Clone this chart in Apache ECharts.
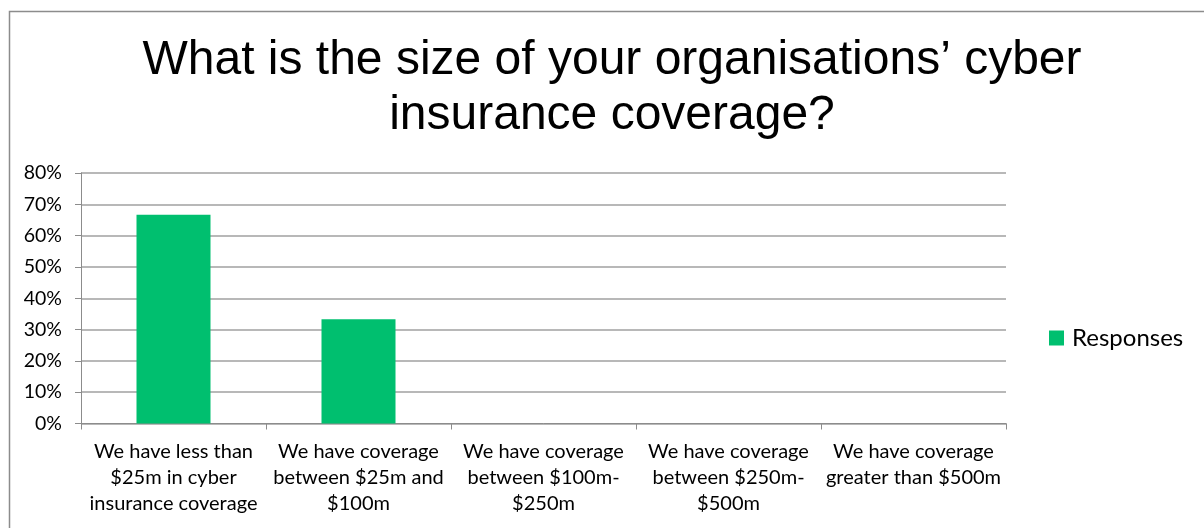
<!DOCTYPE html>
<html>
<head>
<meta charset="utf-8">
<script src="https://cdn.jsdelivr.net/npm/echarts@6/dist/echarts.min.js"></script>
<style>
  html, body { margin: 0; padding: 0; background: #fff; }
  #chart { width: 1204px; height: 528px; }
</style>
</head>
<body>
<div id="chart"></div>
<script>
// Survey answers, shown as share of responses
const categories = [
  'We have less than\n$25m in cyber\ninsurance coverage',
  'We have coverage\nbetween $25m and\n$100m',
  'We have coverage\nbetween $100m-\n$250m',
  'We have coverage\nbetween $250m-\n$500m',
  'We have coverage\ngreater than $500m'
];
const responses = [66.7, 33.3, 0, 0, 0];
const seriesName = 'Responses';
const titleText = 'What is the size of your organisations’ cyber\ninsurance coverage?';

const chart = echarts.init(document.getElementById('chart'));
const labelFont = 'Lato, "Open Sans", sans-serif';

chart.setOption({
  animation: false,
  backgroundColor: '#fff',
  graphic: [{
    type: 'rect',
    left: 7, top: 9,
    shape: { width: 1210, height: 540 },
    style: { fill: 'none', stroke: '#8c8c8c', lineWidth: 1.5 },
    silent: true
  }],
  title: {
    text: titleText,
    left: 607,
    textAlign: 'center',
    top: 28,
    textStyle: {
      fontFamily: '"Liberation Sans", Arial, sans-serif',
      fontWeight: 'normal',
      fontSize: 48,
      lineHeight: 55,
      color: '#000'
    }
  },
  legend: {
    data: [seriesName],
    left: 1044,
    top: 321,
    icon: 'rect',
    itemWidth: 15,
    itemHeight: 15,
    itemGap: 8,
    textStyle: { fontFamily: labelFont, fontSize: 24, color: '#000', padding: [0, 0, 0, 3] }
  },
  grid: { left: 81, right: 198, top: 173, bottom: 104.5, containLabel: false },
  xAxis: {
    type: 'category',
    data: categories,
    axisLine: { lineStyle: { color: '#8c8c8c', width: 1 } },
    axisTick: { show: true, length: 6, alignWithLabel: false, lineStyle: { color: '#8c8c8c' } },
    axisLabel: {
      interval: 0,
      margin: 15,
      fontFamily: labelFont,
      fontSize: 20,
      lineHeight: 26,
      color: '#000',
      align: 'center'
    }
  },
  yAxis: {
    type: 'value',
    min: 0,
    max: 80,
    interval: 10,
    axisLine: { show: true, lineStyle: { color: '#8c8c8c', width: 1 } },
    axisTick: { show: true, length: 6, lineStyle: { color: '#8c8c8c' } },
    splitLine: { lineStyle: { color: '#a0a0a0', width: 1.5 } },
    axisLabel: {
      margin: 19,
      formatter: '{value}%',
      fontFamily: labelFont,
      fontSize: 19.5,
      color: '#000'
    }
  },
  series: [{
    name: seriesName,
    type: 'bar',
    data: responses,
    barWidth: '40%',
    itemStyle: { color: '#00bf6f' }
  }]
});
</script>
</body>
</html>
